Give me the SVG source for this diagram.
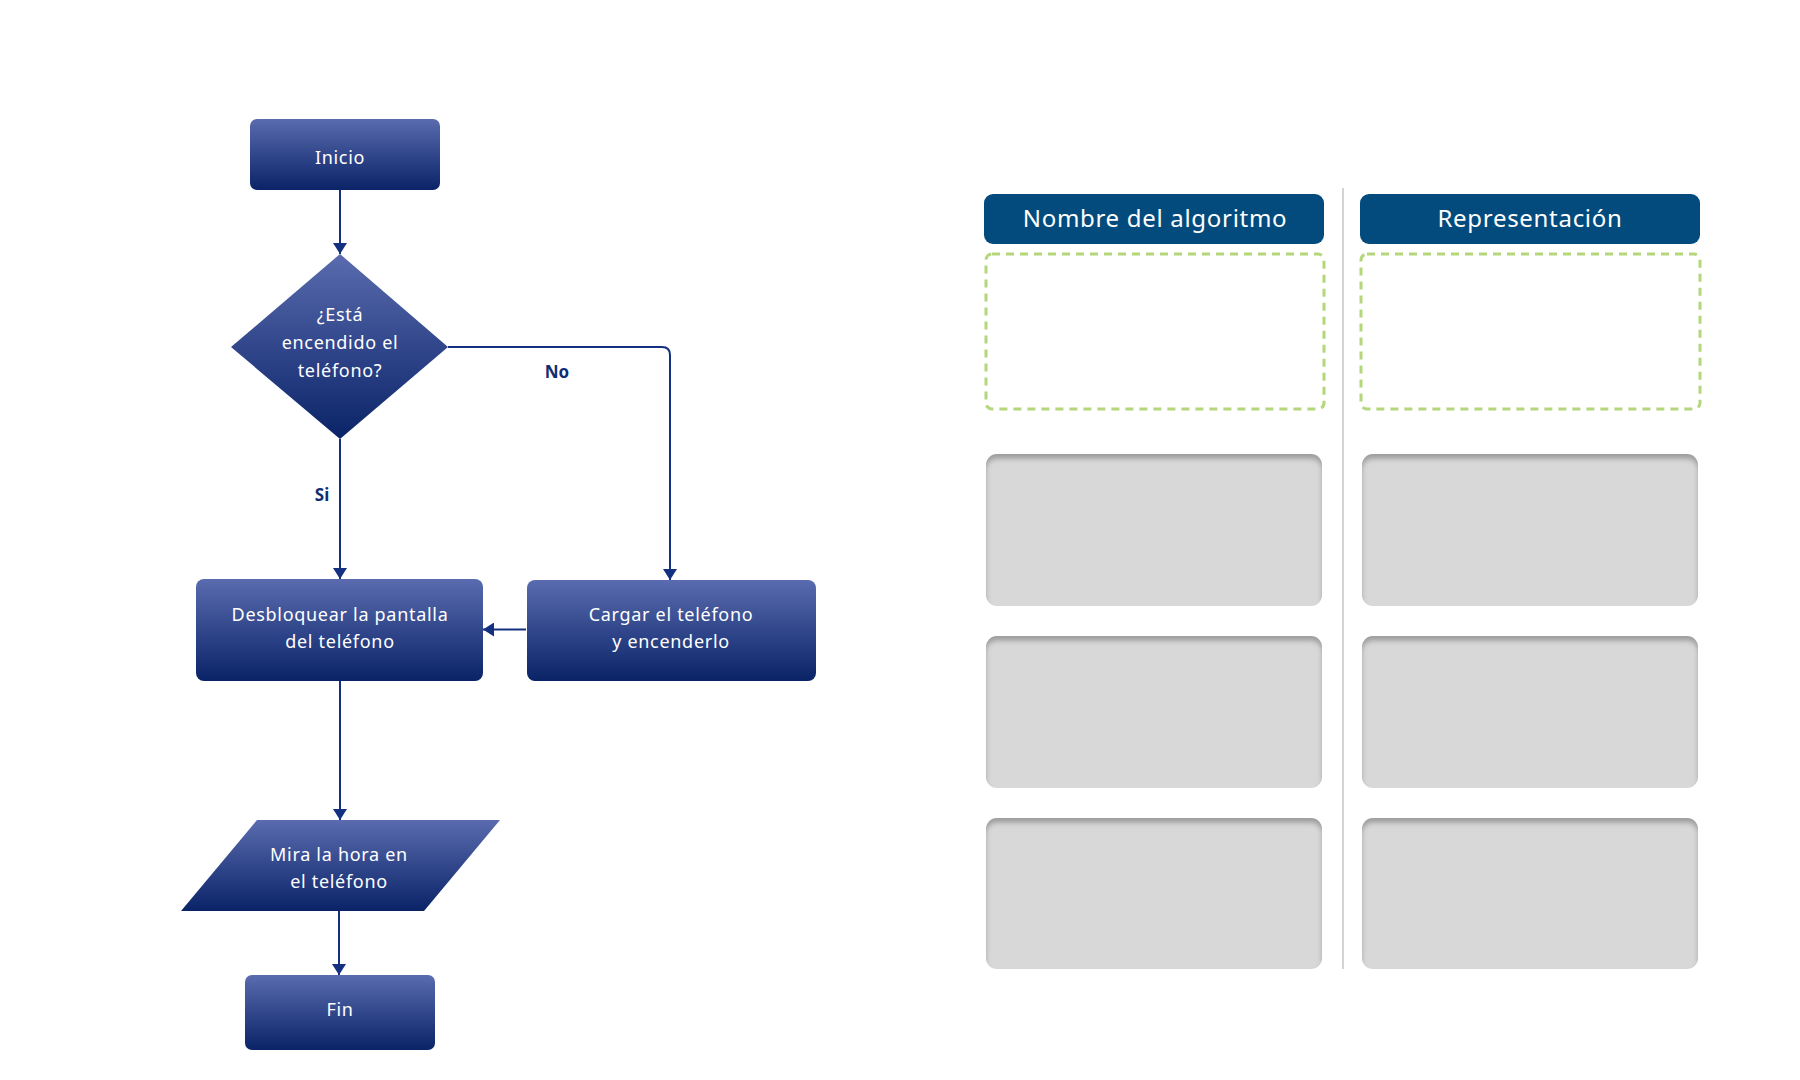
<svg xmlns="http://www.w3.org/2000/svg" width="1800" height="1080" viewBox="0 0 1800 1080">
  <defs>
    <linearGradient id="navy" x1="0" y1="0" x2="0" y2="1">
      <stop offset="0" stop-color="#5a6baf"/>
      <stop offset="1" stop-color="#0a2367"/>
    </linearGradient>
    <marker id="arr" markerUnits="userSpaceOnUse" markerWidth="12" markerHeight="14" refX="11" refY="7" orient="auto">
      <path d="M0,0 L11,7 L0,14 z" fill="#143080"/>
    </marker>
    <filter id="inset" x="-10%" y="-10%" width="120%" height="120%">
      <feFlood flood-color="#000" flood-opacity="0.5" result="f"/>
      <feComposite in="f" in2="SourceAlpha" operator="out" result="outside"/>
      <feGaussianBlur in="outside" stdDeviation="2.5" result="blur"/>
      <feOffset in="blur" dx="0" dy="5" result="off"/>
      <feComposite in="off" in2="SourceAlpha" operator="in" result="shadow"/>
      <feMerge>
        <feMergeNode in="SourceGraphic"/>
        <feMergeNode in="shadow"/>
      </feMerge>
    </filter>
  </defs>
  <style>
    .node { fill: url(#navy); }
    .lbl { font-family: "Noto Sans", "Open Sans", sans-serif; font-size: 18px; letter-spacing: 0.7px; fill: #ffffff; text-anchor: middle; }
    .edge { fill: none; stroke: #143080; stroke-width: 2; }
    .elbl { font-family: "Noto Sans", "Open Sans", sans-serif; font-size: 17px; font-weight: bold; fill: #112d72; text-anchor: middle; }
    .head { fill: #034b7d; }
    .htxt { font-family: "Noto Sans", "Open Sans", sans-serif; font-size: 24px; letter-spacing: 0.7px; fill: #ffffff; text-anchor: middle; }
    .dash { fill: none; stroke: #b3d77a; stroke-width: 3; stroke-dasharray: 8 6; }
    .slot { fill: #d8d8d8; filter: url(#inset); }
  </style>
  <rect width="1800" height="1080" fill="#ffffff"/>

  <g id="connectors">
    <path class="edge" d="M340 190 V254" marker-end="url(#arr)"/>
    <path class="edge" d="M340 439 V579" marker-end="url(#arr)"/>
    <path class="edge" d="M448 347 H662 Q670 347 670 355 V580" marker-end="url(#arr)"/>
    <path class="edge" d="M526 629.5 H483" marker-end="url(#arr)"/>
    <path class="edge" d="M340 681 V820" marker-end="url(#arr)"/>
    <path class="edge" d="M339 911 V975" marker-end="url(#arr)"/>
    <text class="elbl" x="557" y="378">No</text>
    <text class="elbl" x="322" y="501">Si</text>
  </g>

  <g id="inicio">
    <rect class="node" x="250" y="119" width="190" height="71" rx="7"/>
    <text class="lbl" x="340" y="164">Inicio</text>
  </g>

  <g id="decision">
    <polygon class="node" points="340,254 448,347 340,439 231,347"/>
    <text class="lbl" x="340" y="321">¿Está</text>
    <text class="lbl" x="340" y="349">encendido el</text>
    <text class="lbl" x="340" y="377">teléfono?</text>
  </g>

  <g id="desbloquear">
    <rect class="node" x="196" y="579" width="287" height="102" rx="8"/>
    <text class="lbl" x="340" y="621">Desbloquear la pantalla</text>
    <text class="lbl" x="340" y="648">del teléfono</text>
  </g>

  <g id="cargar">
    <rect class="node" x="527" y="580" width="289" height="101" rx="8"/>
    <text class="lbl" x="671" y="621">Cargar el teléfono</text>
    <text class="lbl" x="671" y="648">y encenderlo</text>
  </g>

  <g id="mira">
    <polygon class="node" points="257,820 500,820 424,911 181,911"/>
    <text class="lbl" x="339" y="861">Mira la hora en</text>
    <text class="lbl" x="339" y="888">el teléfono</text>
  </g>

  <g id="fin">
    <rect class="node" x="245" y="975" width="190" height="75" rx="7"/>
    <text class="lbl" x="340" y="1016">Fin</text>
  </g>

  <g id="table">
    <line x1="1343" y1="188" x2="1343" y2="969" stroke="#d4d4d4" stroke-width="2"/>
    <g id="header-nombre">
      <rect class="head" x="984" y="194" width="340" height="50" rx="9"/>
      <text class="htxt" x="1155" y="227">Nombre del algoritmo</text>
    </g>
    <g id="header-representacion">
      <rect class="head" x="1360" y="194" width="340" height="50" rx="9"/>
      <text class="htxt" x="1530" y="227">Representación</text>
    </g>
    <rect class="dash" x="986" y="254" width="338" height="155" rx="6"/>
    <rect class="dash" x="1361" y="254" width="339" height="155" rx="6"/>
    <rect class="slot" x="986" y="454" width="336" height="152" rx="11"/>
    <rect class="slot" x="1362" y="454" width="336" height="152" rx="11"/>
    <rect class="slot" x="986" y="636" width="336" height="152" rx="11"/>
    <rect class="slot" x="1362" y="636" width="336" height="152" rx="11"/>
    <rect class="slot" x="986" y="818" width="336" height="151" rx="11"/>
    <rect class="slot" x="1362" y="818" width="336" height="151" rx="11"/>
  </g>
</svg>
